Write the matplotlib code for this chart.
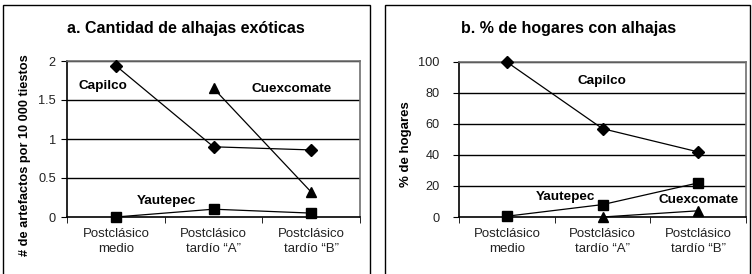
import numpy as np
import matplotlib
matplotlib.use("Agg")
import matplotlib.pyplot as plt
from matplotlib.patches import Rectangle

plt.rcParams["font.family"] = ["Liberation Sans", "DejaVu Sans"]

categories = ["Postclásico\nmedio", "Postclásico\ntardío \u201cA\u201d", "Postclásico\ntardío \u201cB\u201d"]

# panel a: artefactos por 10 000 tiestos
a_capilco = [1.94, 0.90, 0.86]
a_cuexcomate = [np.nan, 1.65, 0.32]
a_yautepec = [0.0, 0.10, 0.05]

# panel b: % de hogares
b_capilco = [100, 57, 42]
b_cuexcomate = [np.nan, 0, 4]
b_yautepec = [0.5, 8, 22]

W, H = 752, 274
fig = plt.figure(figsize=(W / 100, H / 100), dpi=100, facecolor="white")


def px_axes(x0, y0, x1, y1):
    return fig.add_axes([x0 / W, 1 - y1 / H, (x1 - x0) / W, (y1 - y0) / H])


def style_axes(ax, yticks, ylim, ypad):
    x = np.arange(len(categories))
    ax.set_xlim(-0.5, len(categories) - 0.5)
    ax.set_ylim(*ylim)
    ax.set_yticks(yticks)
    ax.set_xticks(x)
    ax.set_xticklabels(categories, fontsize=9.5, color="#222222", linespacing=1.35)
    ax.tick_params(axis="x", length=0, pad=8)
    ax.set_xticks(np.arange(-0.5, len(categories)), minor=True)
    ax.tick_params(axis="x", which="minor", length=4, direction="out", color="black")
    ax.tick_params(axis="y", length=4, direction="out", labelsize=9.2,
                   labelcolor="#222222", pad=ypad)
    for yv in yticks[1:]:
        ax.axhline(yv, color="black", lw=1.0, zorder=1)
    ax.spines["left"].set_color("black")
    ax.spines["bottom"].set_color("black")
    ax.spines["top"].set_color("#707070")
    ax.spines["right"].set_color("#707070")
    for s in ax.spines.values():
        s.set_linewidth(1.2)


def plot_series(ax, vals, marker, ms):
    x = np.arange(len(categories))
    ax.plot(x, vals, color="black", lw=0.9, marker=marker, ms=ms,
            markerfacecolor="black", markeredgecolor="black", zorder=3, clip_on=False)


# boxes around each panel
fig.add_artist(Rectangle((3 / W, -0.05), 367 / W, 1.05 - 5 / H, transform=fig.transFigure,
                         fill=False, edgecolor="black", lw=1.0))
fig.add_artist(Rectangle((385 / W, -0.05), 365 / W, 1.05 - 5 / H, transform=fig.transFigure,
                         fill=False, edgecolor="black", lw=1.0))

lab = dict(fontsize=9.7, fontweight="bold", va="center", ha="left")

# panel a
ax1 = px_axes(67, 61, 360, 217)
style_axes(ax1, [0, 0.5, 1, 1.5, 2], (0, 2), 4)
plot_series(ax1, a_capilco, "D", 6.5)
plot_series(ax1, a_cuexcomate, "^", 7.5)
plot_series(ax1, a_yautepec, "s", 7.5)
ax1.set_yticklabels(["0", "0.5", "1", "1.5", "2"])
ax1.text(-0.38, 1.68, "Capilco", **lab)
ax1.text(1.39, 1.64, "Cuexcomate", **lab)
ax1.text(0.21, 0.21, "Yautepec", **lab)
fig.text(186 / W, 1 - 29 / H, "a. Cantidad de alhajas exóticas", fontsize=11.5,
         fontweight="bold", ha="center", va="center")
fig.text(25 / W, 1 - 155 / H, "# de artefactos por 10 000 tiestos", fontsize=9.2,
         fontweight="bold", rotation=90, ha="center", va="center")

# panel b
ax2 = px_axes(459, 62, 746, 217)
style_axes(ax2, [0, 20, 40, 60, 80, 100], (0, 100), 10)
plot_series(ax2, b_capilco, "D", 6.5)
plot_series(ax2, b_cuexcomate, "^", 7.5)
plot_series(ax2, b_yautepec, "s", 7.5)
ax2.text(0.74, 88, "Capilco", **lab)
ax2.text(0.30, 13, "Yautepec", **lab)
ax2.text(1.59, 11, "Cuexcomate", **lab)
fig.text(569 / W, 1 - 29 / H, "b. % de hogares con alhajas", fontsize=11.5,
         fontweight="bold", ha="center", va="center")
fig.text(406 / W, 1 - 144 / H, "% de hogares", fontsize=9.5,
         fontweight="bold", rotation=90, ha="center", va="center")

fig.savefig("out.png", dpi=100, facecolor="white")
